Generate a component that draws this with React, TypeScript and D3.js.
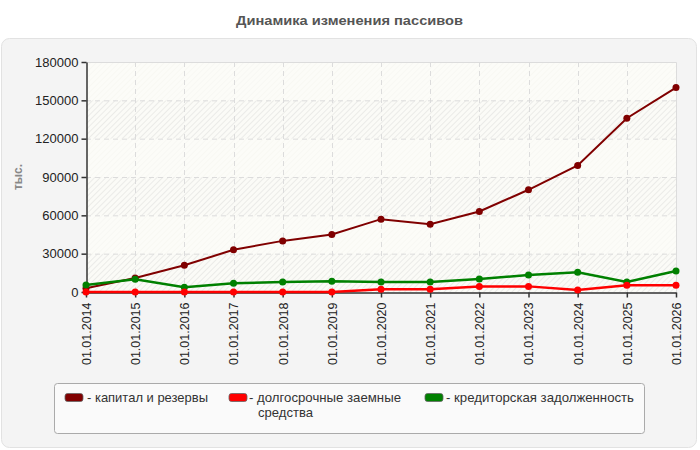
import { useEffect, useRef } from "react";
import * as d3 from "d3";

const dates = [
  "01.01.2014", "01.01.2015", "01.01.2016", "01.01.2017", "01.01.2018", "01.01.2019", "01.01.2020",
  "01.01.2021", "01.01.2022", "01.01.2023", "01.01.2024", "01.01.2025", "01.01.2026",
];
const capital = [3000, 11000, 21000, 33000, 40000, 45000, 57000, 53000, 63000, 80000, 99000, 136000, 160000];
const longTermDebt = [0, 0, 0, 0, 0, 0, 2100, 2200, 4400, 4400, 1500, 5200, 5200];
const payables = [5500, 10000, 3700, 6800, 7800, 8400, 7800, 7800, 10200, 13300, 15400, 7800, 16400];
const yTicks = [0, 30000, 60000, 90000, 120000, 150000, 180000];

const series = [
  { name: "капитал и резервы", color: "#800000", width: 2, values: capital },
  { name: "долгосрочные заемные средства", color: "#ff0000", width: 2.5, values: longTermDebt },
  { name: "кредиторская задолженность", color: "#008000", width: 2.5, values: payables },
];

const W = 700;
const H = 450;
const margin = { top: 62, right: 24, bottom: 158, left: 86 };
const font = "Liberation Sans, Arial, sans-serif";

export default function App() {
  const ref = useRef<SVGSVGElement>(null);

  useEffect(() => {
    const svg = d3.select(ref.current);
    svg.selectAll("*").remove();

    const x = d3.scalePoint().domain(dates).range([margin.left, W - margin.right]);
    const y = d3.scaleLinear().domain([0, 180000]).range([H - margin.bottom, margin.top]);

    // hatch pattern for alternating bands
    const defs = svg.append("defs");
    const pat = defs
      .append("pattern")
      .attr("id", "hatch")
      .attr("patternUnits", "userSpaceOnUse")
      .attr("width", 4)
      .attr("height", 4)
      .attr("patternTransform", "rotate(45)");
    pat.append("rect").attr("width", 4).attr("height", 4).attr("fill", "#fbfbf7");
    pat.append("line").attr("x1", 0).attr("y1", 0).attr("x2", 0).attr("y2", 4)
      .attr("stroke", "#e6e6e3").attr("stroke-width", 1.5);

    // title
    svg.append("text")
      .attr("x", 236).attr("y", 25)
      .attr("textLength", 227).attr("lengthAdjust", "spacingAndGlyphs")
      .attr("font-family", font).attr("font-size", 13.5).attr("font-weight", "bold")
      .attr("fill", "#555")
      .text("Динамика изменения пассивов");

    // panel
    svg.append("rect")
      .attr("x", 1.5).attr("y", 38.5).attr("width", 695).attr("height", 409)
      .attr("rx", 8)
      .attr("fill", "#f4f4f4").attr("stroke", "#e2e2e2");

    // plot background with bands
    const x0 = margin.left, x1 = W - margin.right;
    svg.append("rect")
      .attr("x", x0).attr("y", y(180000)).attr("width", x1 - x0).attr("height", y(0) - y(180000))
      .attr("fill", "#fdfdf8");
    const bands = d3.range(0, yTicks.length - 1);
    svg.append("g").selectAll("rect").data(bands).join("rect")
      .attr("x", x0)
      .attr("y", (i) => y(yTicks[i + 1]))
      .attr("width", x1 - x0)
      .attr("height", (i) => y(yTicks[i]) - y(yTicks[i + 1]))
      .attr("fill", "url(#hatch)")
      .attr("opacity", (i) => (i % 2 === 0 ? 1 : 0.3));

    // grid
    const grid = svg.append("g").attr("stroke", "#dcdcdc").attr("stroke-dasharray", "5,4");
    grid.selectAll("line.h").data(yTicks.slice(1, -1)).join("line")
      .attr("x1", x0).attr("x2", x1).attr("y1", (d) => y(d) + 0.5).attr("y2", (d) => y(d) + 0.5);
    grid.selectAll("line.v").data(dates.slice(1, -1)).join("line")
      .attr("x1", (d) => Math.round(x(d)!) + 0.5).attr("x2", (d) => Math.round(x(d)!) + 0.5)
      .attr("y1", y(180000)).attr("y2", y(0));
    svg.append("path")
      .attr("d", `M${x0},${y(180000) + 0.5}H${x1 + 0.5}V${y(0)}`)
      .attr("fill", "none").attr("stroke", "#dcdcdc");

    // axes
    const yAxis = svg.append("g")
      .attr("transform", `translate(${x0 + 0.5},0)`)
      .call(d3.axisLeft(y).tickValues(yTicks).tickFormat(d3.format("d")).tickSize(5).tickSizeOuter(0).tickPadding(3));
    const xAxis = svg.append("g")
      .attr("transform", `translate(0,${y(0) + 0.5})`)
      .call(d3.axisBottom(x).tickSize(5).tickSizeOuter(0));
    [yAxis, xAxis].forEach((g) => {
      g.select(".domain").attr("stroke", "#333").attr("stroke-width", 1.5);
      g.selectAll(".tick line").attr("stroke", "#333").attr("stroke-width", 1.5);
      g.selectAll("text").attr("font-family", font).attr("fill", "#222");
    });
    yAxis.selectAll("text").attr("font-size", 13);
    xAxis.selectAll("text")
      .attr("font-size", 12.5)
      .attr("transform", "rotate(-90)")
      .attr("text-anchor", "end")
      .attr("x", -10).attr("y", 0).attr("dy", "0.35em");

    // y label
    svg.append("text")
      .attr("transform", `translate(22,${(y(0) + y(180000)) / 2}) rotate(-90)`)
      .attr("text-anchor", "middle")
      .attr("font-family", font).attr("font-size", 12).attr("font-weight", "bold")
      .attr("fill", "#888")
      .text("тыс.");

    // lines and markers
    const line = d3.line<number>().x((_, i) => x(dates[i])!).y((d) => y(d));
    const order = [series[0], series[2], series[1]];
    order.forEach((s) => {
      svg.append("path")
        .attr("d", line(s.values))
        .attr("fill", "none").attr("stroke", s.color).attr("stroke-width", s.width);
    });
    order.forEach((s) => {
      svg.append("g").selectAll("circle").data(s.values).join("circle")
        .attr("cx", (_, i) => x(dates[i])!).attr("cy", (d) => y(d))
        .attr("r", 3.5).attr("fill", s.color);
    });

    // legend
    const lg = svg.append("g");
    lg.append("rect")
      .attr("x", 54.5).attr("y", 383.5).attr("width", 590).attr("height", 50)
      .attr("rx", 3).attr("fill", "#fafafa").attr("stroke", "#aaa");
    const swatchX = [65, 229, 425];
    series.forEach((s, i) => {
      lg.append("rect")
        .attr("x", swatchX[i]).attr("y", 393.5).attr("width", 18).attr("height", 8)
        .attr("rx", 2.5).attr("fill", s.color).attr("stroke", "#666").attr("stroke-width", 0.8);
    });
    const addText = (tx: number, ty: number, len: number, str: string) =>
      lg.append("text")
        .attr("x", tx).attr("y", ty)
        .attr("textLength", len).attr("lengthAdjust", "spacingAndGlyphs")
        .attr("font-family", font).attr("font-size", 13).attr("fill", "#333")
        .text(str);
    addText(87, 402, 121, "- " + series[0].name);
    addText(249, 402, 152, "- долгосрочные заемные");
    addText(258, 417, 55, "средства");
    addText(446, 402, 188, "- " + series[2].name);
  }, []);

  return (
    <svg
      ref={ref}
      width={W}
      height={H}
      style={{ display: "block", position: "absolute", left: 0, top: 0, background: "#fff" }}
    />
  );
}
